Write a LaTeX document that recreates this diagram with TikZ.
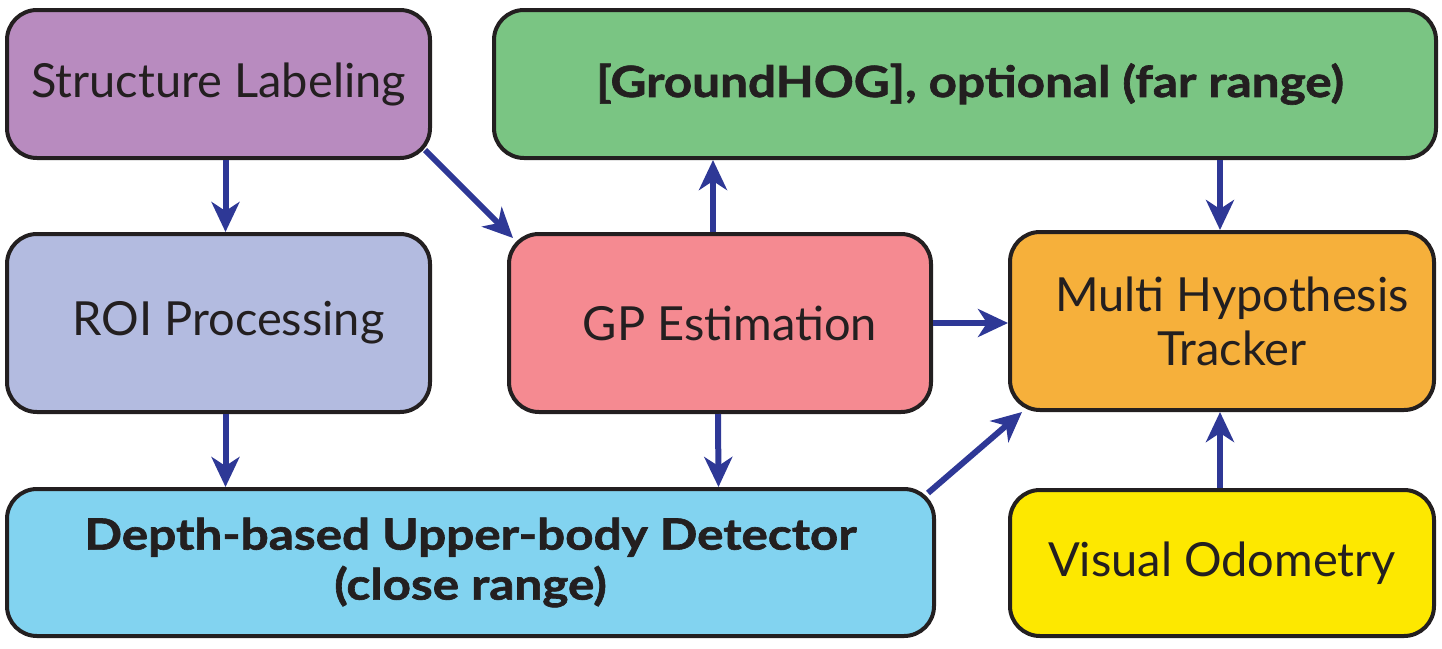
\documentclass[tikz,border=0pt]{standalone}
\usepackage{fontspec}
\setmainfont{Lato}
\newfontfamily\heavyfont{Lato}[FakeStretch=1.15,BoldFeatures={FakeBold=1.5}]
\usetikzlibrary{arrows.meta,calc}
\definecolor{cSL}{HTML}{B88BBF}
\definecolor{cGH}{HTML}{7AC583}
\definecolor{cROI}{HTML}{B3BBE0}
\definecolor{cGP}{HTML}{F58A91}
\definecolor{cMHT}{HTML}{F6B03B}
\definecolor{cDB}{HTML}{82D3F0}
\definecolor{cVO}{HTML}{FDE800}
\definecolor{cArr}{HTML}{2E3896}
\definecolor{cLine}{HTML}{231F20}
\begin{document}
\begin{tikzpicture}[x=1pt,y=-1pt,
  box/.style={draw=cLine, line width=4pt, rounded corners=30pt, inner sep=0pt,
    align=center, text=cLine, font=\fontsize{47}{54}\selectfont},
  boldbox/.style={box, font=\heavyfont\fontsize{43}{50}\bfseries\selectfont},
  arr/.style={draw=cArr, line width=6pt, -{Stealth[length=30pt,width=28pt,inset=9pt]}}]
\useasboundingbox (0,0) rectangle (1442,648);
\node[box, fill=cSL, minimum width=423pt, minimum height=148pt] (SL) at (218.5,84) {Structure Labeling};
\node[boldbox, fill=cGH, minimum width=942pt, minimum height=148pt] (GH) at (965,84) {\hspace*{10pt}[GroundHOG], optional (far range)};
\node[box, fill=cROI, minimum width=423pt, minimum height=178pt] (ROI) at (218.5,323) {\hspace*{20pt}ROI Processing};
\node[box, fill=cGP, minimum width=422pt, minimum height=178pt] (GP) at (720,323) {\hspace*{20pt}GP Estimation};
\node[box, fill=cMHT, minimum width=424pt, minimum height=178pt] (MHT) at (1222,321) {\hspace*{20pt}Multi Hypothesis\\\hspace*{20pt}Tracker};
\node[boldbox, fill=cDB, minimum width=927pt, minimum height=147pt] (DB) at (470.5,562.5) {Depth-based Upper-body Detector\\(close range)};
\node[box, fill=cVO, minimum width=424pt, minimum height=146pt] (VO) at (1222,563) {Visual Odometry};
\draw[arr] ($(SL.south)+(7,0)$) -- ($(ROI.north)+(7,0)$);
\draw[arr] ($(SL.south east)+(-7,-10)$) -- ($(GP.north west)+(6,6)$);
\draw[arr] ($(GP.north)+(-7,0)$) -- ($(GH.south)+(-252,0)$);
\draw[arr] ($(GH.south)+(255,0)$) -- ($(MHT.north)+(-2,0)$);
\draw[arr] (GP.east) -- (MHT.west |- GP.east);
\draw[arr] ($(ROI.south)+(7,0)$) -- ($(DB.north)+(-245,0)$);
\draw[arr] ($(GP.south)+(-2,0)$) -- ($(DB.north)+(248,0)$);
\draw[arr] ($(DB.north east)+(-8,6)$) -- ($(MHT.south west)+(14,0)$);
\draw[arr] ($(VO.north)+(-2,0)$) -- ($(MHT.south)+(-2,0)$);
\end{tikzpicture}
\end{document}
